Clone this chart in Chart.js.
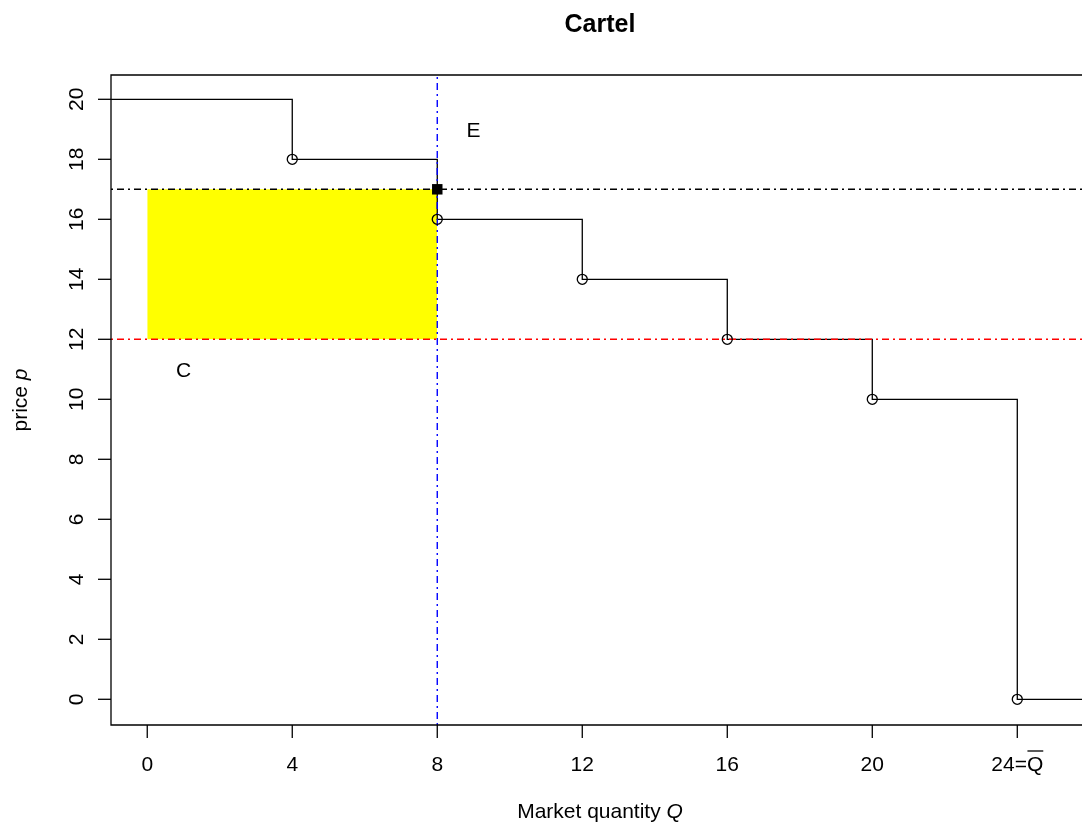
<!DOCTYPE html>
<html><head><meta charset="utf-8">
<script src="https://cdn.jsdelivr.net/npm/chart.js@4/dist/chart.umd.min.js"></script>
<style>html,body{margin:0;padding:0;background:#fff}canvas{display:block}</style>
</head><body>
<canvas id="c" width="1082" height="827"></canvas>
<script>
// ---- data ----
const stepQ = [0, 4, 8, 12, 16, 20, 24];          // quantity thresholds
const stepP = [20, 18, 16, 14, 12, 10, 0];         // demand price levels
const cartelQ = 8;
const cartelP = 17;
const costP = 12;
const xTicks = [0, 4, 8, 12, 16, 20, 24];
const xTickLabels = ['0', '4', '8', '12', '16', '20', '24=Q'];
const yTicks = [0, 2, 4, 6, 8, 10, 12, 14, 16, 18, 20];
const noteText = ['E', 'C'];
const noteQ = [9, 1];
const noteP = [19, 11];

const X_MIN = -1, X_MAX = 25.785, Y_MIN = -0.857, Y_MAX = 20.81;
const FONT = '"Liberation Sans", Arial, Helvetica, sans-serif';
const DOTDASH = [2, 4, 7, 4];

// step demand curve built from the arrays
const stepLine = [{x: X_MIN, y: stepP[0]}];
for (let i = 1; i < stepQ.length; i++) {
  stepLine.push({x: stepQ[i], y: stepP[i - 1]});
  stepLine.push({x: stepQ[i], y: stepP[i]});
}
stepLine.push({x: X_MAX, y: stepP[stepP.length - 1]});
const circles = stepQ.slice(1).map((q, i) => ({x: q, y: stepP[i + 1]}));

const axesPlugin = {
  id: 'rAxes',
  afterDatasetsDraw(chart) {
    const {ctx, scales: {x, y}} = chart;
    ctx.save();
    ctx.fillStyle = '#000';
    ctx.font = '21px ' + FONT;
    ctx.textAlign = 'center';
    ctx.textBaseline = 'alphabetic';
    noteText.forEach((t, i) => {
      ctx.fillText(t, x.getPixelForValue(noteQ[i]), y.getPixelForValue(noteP[i]) + 7.5);
    });
    ctx.restore();
  },
  afterDraw(chart) {
    const {ctx, chartArea: a, scales: {x, y}} = chart;
    ctx.save();
    ctx.strokeStyle = '#000';
    ctx.lineWidth = 1.3;
    // box (right edge lies outside the canvas)
    ctx.beginPath();
    ctx.moveTo(a.right + 20, a.top);
    ctx.lineTo(a.left, a.top);
    ctx.lineTo(a.left, a.bottom);
    ctx.lineTo(a.right + 20, a.bottom);
    ctx.stroke();
    // x ticks
    ctx.fillStyle = '#000';
    ctx.font = '21px ' + FONT;
    ctx.textAlign = 'center';
    ctx.textBaseline = 'alphabetic';
    xTicks.forEach((v, i) => {
      const px = x.getPixelForValue(v);
      ctx.beginPath();
      ctx.moveTo(px, a.bottom);
      ctx.lineTo(px, a.bottom + 13);
      ctx.stroke();
      const lab = xTickLabels[i];
      ctx.fillText(lab, px, 771);
      if (lab.indexOf('=Q') >= 0) {
        const w = ctx.measureText(lab).width;
        const wQ = ctx.measureText('Q').width;
        const right = px + w / 2;
        ctx.beginPath();
        ctx.lineWidth = 1.3;
        ctx.moveTo(right - wQ + 0.5, 751);
        ctx.lineTo(right, 751);
        ctx.stroke();
      }
    });
    // y ticks
    yTicks.forEach(v => {
      const py = y.getPixelForValue(v);
      ctx.beginPath();
      ctx.moveTo(a.left, py);
      ctx.lineTo(a.left - 13, py);
      ctx.stroke();
      ctx.save();
      ctx.translate(83, py);
      ctx.rotate(-Math.PI / 2);
      ctx.fillText(String(v), 0, 0);
      ctx.restore();
    });
    // title
    ctx.font = 'bold 25px ' + FONT;
    ctx.fillText('Cartel', 600, 32);
    // x axis title with italic Q
    const t1 = 'Market quantity ', t2 = 'Q';
    ctx.font = '21px ' + FONT;
    const w1 = ctx.measureText(t1).width;
    ctx.font = 'italic 21px ' + FONT;
    const w2 = ctx.measureText(t2).width;
    let sx = 600 - (w1 + w2) / 2;
    ctx.textAlign = 'left';
    ctx.font = '21px ' + FONT;
    ctx.fillText(t1, sx, 818);
    ctx.font = 'italic 21px ' + FONT;
    ctx.fillText(t2, sx + w1, 818);
    // y axis title with italic p
    const u1 = 'price ', u2 = 'p';
    ctx.font = '21px ' + FONT;
    const v1 = ctx.measureText(u1).width;
    ctx.font = 'italic 21px ' + FONT;
    const v2 = ctx.measureText(u2).width;
    ctx.save();
    ctx.translate(27, (a.top + a.bottom) / 2);
    ctx.rotate(-Math.PI / 2);
    const s0 = -(v1 + v2) / 2;
    ctx.font = '21px ' + FONT;
    ctx.fillText(u1, s0, 0);
    ctx.font = 'italic 21px ' + FONT;
    ctx.fillText(u2, s0 + v1, 0);
    ctx.restore();
    ctx.restore();
  }
};

new Chart(document.getElementById('c'), {
  type: 'scatter',
  data: {
    datasets: [
      { // cartel profit rectangle
        type: 'line',
        data: [{x: 0, y: cartelP}, {x: cartelQ, y: cartelP}],
        borderWidth: 0, borderColor: 'rgba(0,0,0,0)',
        backgroundColor: '#FFFF00',
        fill: {value: costP},
        pointRadius: 0, order: 10
      },
      { // demand step curve
        type: 'line', data: stepLine, borderColor: '#000', borderWidth: 1.3,
        pointRadius: 0, fill: false, tension: 0, order: 8
      },
      { // cartel price line
        type: 'line', data: [{x: X_MIN, y: cartelP}, {x: X_MAX, y: cartelP}],
        borderColor: '#000', borderWidth: 1.4, borderDash: DOTDASH,
        pointRadius: 0, fill: false, order: 6
      },
      { // cost line
        type: 'line', data: [{x: X_MIN, y: costP}, {x: X_MAX, y: costP}],
        borderColor: '#FF0000', borderWidth: 1.5, borderDash: DOTDASH,
        pointRadius: 0, fill: false, order: 5
      },
      { // cartel quantity line
        type: 'line', data: [{x: cartelQ, y: Y_MIN}, {x: cartelQ, y: Y_MAX}],
        borderColor: '#0000FF', borderWidth: 1.4, borderDash: DOTDASH,
        pointRadius: 0, fill: false, order: 4
      },
      { // open circles
        data: circles, showLine: false, pointStyle: 'circle', pointRadius: 5,
        pointBorderWidth: 1.3, pointBorderColor: '#000',
        pointBackgroundColor: 'rgba(0,0,0,0)', order: 2
      },
      { // equilibrium point
        data: [{x: cartelQ, y: cartelP}], showLine: false, pointStyle: 'rect',
        pointRadius: 7.4, pointBorderWidth: 0, pointBorderColor: '#000',
        pointBackgroundColor: '#000', order: 1
      }
    ]
  },
  options: {
    responsive: false, animation: false, devicePixelRatio: 1, events: [],
    layout: {autoPadding: false, padding: {left: 111, right: 0, top: 75, bottom: 102}},
    plugins: {legend: {display: false}, title: {display: false}, tooltip: {enabled: false}},
    scales: {
      x: {type: 'linear', min: X_MIN, max: X_MAX, display: false},
      y: {type: 'linear', min: Y_MIN, max: Y_MAX, display: false}
    }
  },
  plugins: [axesPlugin]
});
</script>
</body></html>
